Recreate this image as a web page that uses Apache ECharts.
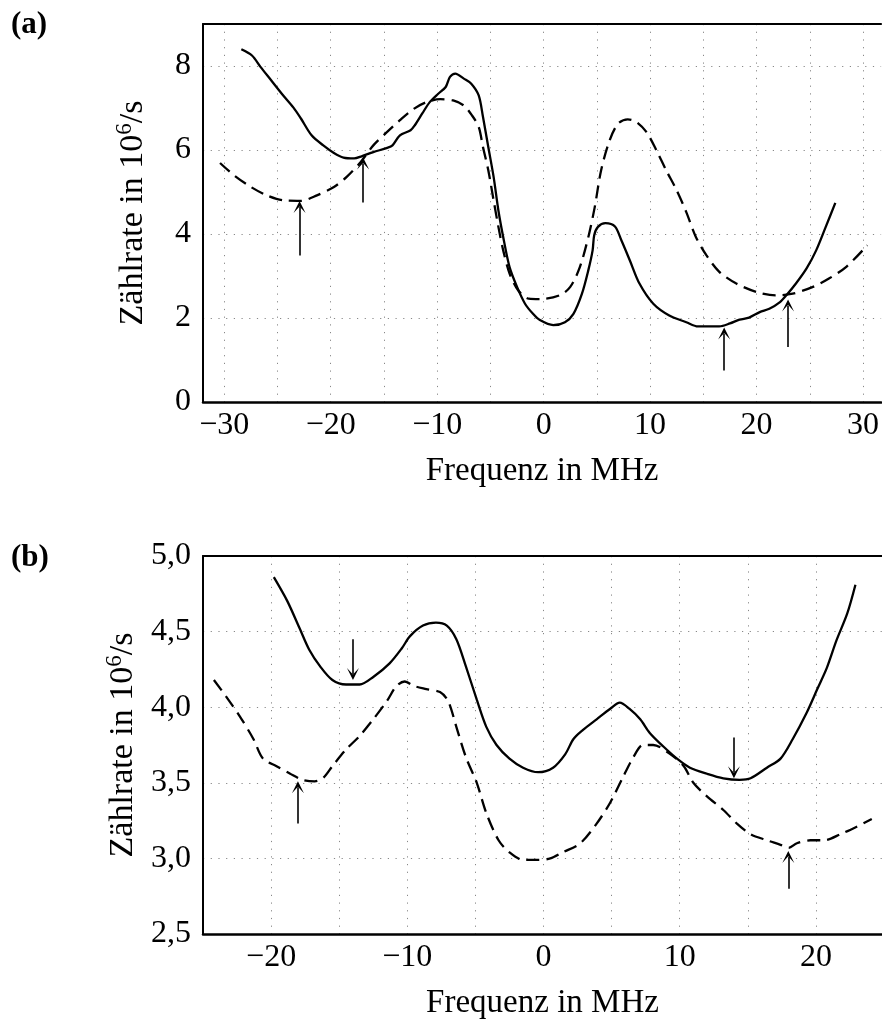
<!DOCTYPE html>
<html>
<head>
<meta charset="utf-8">
<script src="https://cdn.jsdelivr.net/npm/echarts@6/dist/echarts.min.js"></script>
<style>
html,body{margin:0;padding:0;background:#fff;}
#chart{width:882px;height:1021px;}
</style>
</head>
<body>
<div id="chart"></div>
<script>
// ---- data ----
// Panel (a): frequency in MHz, rate in 10^6/s
const aSolid = [[-28.4,8.40],[-27.4,8.25],[-26.6,7.98],[-25.6,7.66],[-24.6,7.34],[-23.5,7.01],[-22.8,6.75],[-21.8,6.35],[-20.7,6.11],[-19.7,5.93],[-18.8,5.82],[-17.8,5.80],[-17.1,5.85],[-16.0,5.95],[-14.7,6.05],[-14.2,6.11],[-13.5,6.35],[-12.5,6.47],[-12.1,6.59],[-11.4,6.87],[-10.7,7.14],[-9.9,7.34],[-9.2,7.50],[-8.8,7.74],[-8.3,7.82],[-7.5,7.70],[-6.8,7.58],[-6.1,7.30],[-5.7,6.79],[-5.2,6.07],[-4.7,5.36],[-4.25,4.56],[-3.8,3.93],[-3.2,3.21],[-2.5,2.74],[-1.75,2.34],[-1.0,2.10],[-0.35,1.95],[0.9,1.83],[2.0,1.90],[2.8,2.10],[3.6,2.58],[4.2,3.14],[4.6,3.61],[4.75,3.97],[5.1,4.17],[5.8,4.26],[6.7,4.18],[7.3,3.85],[8.1,3.37],[9.0,2.82],[10.3,2.34],[11.8,2.06],[13.4,1.90],[14.5,1.80],[16.5,1.80],[17.5,1.87],[18.4,1.96],[19.3,2.01],[20.3,2.14],[21.2,2.22],[22.2,2.38],[22.8,2.54],[23.7,2.82],[24.7,3.18],[25.6,3.61],[26.5,4.17],[27.4,4.74]];
const aDashed = [[-30.4,5.69],[-29.1,5.40],[-27.5,5.12],[-26.0,4.92],[-24.4,4.80],[-22.8,4.79],[-21.3,4.92],[-19.7,5.12],[-18.5,5.36],[-17.2,5.71],[-16.0,6.11],[-14.7,6.43],[-13.5,6.71],[-12.2,6.98],[-11.0,7.14],[-9.7,7.21],[-8.5,7.18],[-7.5,7.06],[-6.75,6.83],[-6.1,6.55],[-5.7,6.07],[-5.2,5.52],[-4.7,4.80],[-4.25,4.17],[-3.8,3.61],[-3.2,3.06],[-2.4,2.66],[-1.4,2.46],[-0.35,2.45],[1.5,2.54],[2.5,2.74],[3.4,3.21],[4.2,3.93],[4.8,4.64],[5.4,5.52],[6.2,6.23],[7.0,6.63],[7.9,6.73],[8.7,6.67],[9.65,6.43],[10.6,5.99],[11.5,5.52],[12.5,5.04],[13.4,4.52],[14.3,3.93],[15.3,3.49],[16.5,3.10],[18.1,2.82],[20.0,2.62],[21.8,2.54],[23.4,2.58],[25.3,2.74],[26.8,2.94],[28.4,3.21],[30.4,3.73]];
// arrows: [frequency, tail value, tip value]
const aArrows = [[-22.93,3.49,4.64],[-16.96,4.75,5.68],[16.96,0.75,1.63],[22.96,1.31,2.30]];

// Panel (b)
const bSolid = [[-19.8,4.86],[-18.8,4.70],[-17.9,4.52],[-17.2,4.38],[-16.4,4.27],[-15.5,4.18],[-14.5,4.15],[-13.5,4.15],[-12.5,4.20],[-11.3,4.29],[-10.4,4.39],[-9.8,4.47],[-8.85,4.54],[-7.9,4.56],[-7.1,4.54],[-6.4,4.45],[-5.7,4.27],[-4.9,4.05],[-4.2,3.87],[-3.45,3.75],[-2.5,3.66],[-1.5,3.60],[-0.4,3.57],[0.7,3.60],[1.6,3.69],[2.2,3.79],[2.9,3.85],[3.9,3.92],[4.9,3.99],[5.6,4.03],[6.3,3.99],[7.1,3.92],[7.8,3.83],[8.8,3.74],[9.8,3.66],[10.75,3.60],[12.0,3.56],[13.2,3.53],[14.4,3.52],[15.2,3.53],[16.4,3.60],[17.4,3.66],[18.3,3.79],[19.3,3.96],[20.1,4.12],[20.8,4.26],[21.5,4.44],[22.3,4.62],[22.9,4.81]];
const bDashed = [[-24.2,4.18],[-23.3,4.07],[-22.3,3.94],[-21.3,3.79],[-20.6,3.66],[-19.6,3.61],[-18.6,3.56],[-17.7,3.52],[-16.8,3.51],[-16.2,3.53],[-15.5,3.61],[-14.5,3.72],[-13.5,3.81],[-12.5,3.92],[-11.5,4.04],[-10.8,4.14],[-10.2,4.17],[-9.5,4.14],[-8.6,4.12],[-7.6,4.10],[-7.0,4.04],[-6.4,3.87],[-5.7,3.67],[-4.9,3.50],[-4.2,3.30],[-3.3,3.12],[-2.5,3.04],[-1.5,2.99],[-0.45,2.99],[0.5,3.00],[1.4,3.04],[2.7,3.10],[3.9,3.23],[4.9,3.37],[5.85,3.54],[6.6,3.67],[7.3,3.75],[8.05,3.75],[9.3,3.69],[10.3,3.61],[11.0,3.50],[12.0,3.41],[13.2,3.32],[14.2,3.23],[15.2,3.16],[16.4,3.12],[17.4,3.09],[18.0,3.07],[18.6,3.10],[19.6,3.12],[20.6,3.12],[21.8,3.16],[23.0,3.21],[24.1,3.26]];
const bArrows = [[-13.99,4.45,4.22],[-18.03,3.23,3.47],[13.98,3.80,3.57],[17.97,2.80,3.01]];

// visible axis ranges (the frame runs off the right edge of the picture)
const aXRange = [-32, 31.7];
const aYRange = [0, 9];
const bXRange = [-25, 24.85];
const bYRange = [2.5, 5.0];

const panelLabels = ['(a)', '(b)'];
const xTitle = 'Frequenz in MHz';
const yTitle = 'Zählrate in 10{sup|6}/s';

// ---- chart ----
const FONT = 'Liberation Serif';
const gridLineX = {show:true, showMinLine:false, showMaxLine:false, lineStyle:{color:'#888', width:1, type:[1.2,6.5]}};
const gridLineY = {show:true, lineStyle:{color:'#888', width:1, type:[1.2,6.5]}};
const arrowHead = 'path://M0,0 L5,11 L0,5 L-5,11 Z';

function fmtX(v){
  if (Math.abs(v % 10) > 1e-9) return '';
  return v < 0 ? '\u2212' + Math.abs(v) : String(v);
}
function arrowsData(arr){
  return arr.map(a => ({coords:[[a[0],a[1]],[a[0],a[2]]]}));
}

const chart = echarts.init(document.getElementById('chart'), null, {renderer:'canvas'});
const yName = {
  name: yTitle, nameLocation:'middle', nameGap:50,
  nameTextStyle:{fontFamily:FONT, fontSize:34, color:'#000',
    rich:{sup:{fontFamily:FONT, fontSize:23, color:'#000', padding:[0,0,17,0]}}}
};
const xName = {
  name: xTitle, nameLocation:'middle', nameGap:53,
  nameTextStyle:{fontFamily:FONT, fontSize:33, color:'#000'}
};
const topAxis = {type:'value', position:'top',
  axisLine:{show:true, onZero:false, lineStyle:{color:'#000', width:2}},
  axisTick:{show:false}, axisLabel:{show:false}, splitLine:{show:false}};

chart.setOption({
  animation:false,
  backgroundColor:'#fff',
  title:[
    {text:panelLabels[0], left:6, top:4, textStyle:{fontFamily:FONT, fontWeight:'bold', fontSize:31, color:'#000'}},
    {text:panelLabels[1], left:6, top:537, textStyle:{fontFamily:FONT, fontWeight:'bold', fontSize:31, color:'#000'}}
  ],
  grid:[
    {left:203, top:24, bottom:619, right:0, show:false, containLabel:false},
    {left:203, top:556, bottom:87, right:0, show:false, containLabel:false}
  ],
  xAxis:[
    Object.assign({gridIndex:0, type:'value', min:aXRange[0], max:aXRange[1], splitNumber:13,
      axisLine:{show:true, onZero:false, lineStyle:{color:'#000', width:2.5}},
      axisTick:{show:false},
      axisLabel:{formatter:fmtX, fontFamily:FONT, fontSize:32, color:'#000', margin:8, showMinLabel:false, showMaxLabel:false},
      splitLine:gridLineX}, xName),
    Object.assign({gridIndex:1, type:'value', min:bXRange[0], max:bXRange[1], interval:5,
      axisLine:{show:true, onZero:false, lineStyle:{color:'#000', width:2.5}},
      axisTick:{show:false},
      axisLabel:{formatter:fmtX, fontFamily:FONT, fontSize:32, color:'#000', margin:8, showMaxLabel:false},
      splitLine:gridLineX}, xName),
    Object.assign({gridIndex:0, min:aXRange[0], max:aXRange[1]}, topAxis),
    Object.assign({gridIndex:1, min:bXRange[0], max:bXRange[1]}, topAxis)
  ],
  yAxis:[
    Object.assign({gridIndex:0, type:'value', min:aYRange[0], max:aYRange[1], interval:2,
      axisLine:{show:true, onZero:false, lineStyle:{color:'#000', width:2}},
      axisTick:{show:false},
      axisLabel:{fontFamily:FONT, fontSize:32, color:'#000', margin:12, showMaxLabel:false,
        formatter:v => (v % 2 === 0 ? String(v) : '')},
      splitLine:gridLineY}, yName),
    Object.assign({gridIndex:1, type:'value', min:bYRange[0], max:bYRange[1], interval:0.5,
      axisLine:{show:true, onZero:false, lineStyle:{color:'#000', width:2}},
      axisTick:{show:false},
      axisLabel:{fontFamily:FONT, fontSize:32, color:'#000', margin:12,
        formatter:v => v.toFixed(1).replace('.', ',')},
      splitLine:gridLineY}, yName)
  ],
  series:[
    {type:'line', xAxisIndex:0, yAxisIndex:0, data:aSolid, showSymbol:false, smooth:0.3,
      lineStyle:{color:'#000', width:2.3}},
    {type:'line', xAxisIndex:0, yAxisIndex:0, data:aDashed, showSymbol:false, smooth:0.3,
      lineStyle:{color:'#000', width:2.3, type:[13,7]}},
    {type:'lines', coordinateSystem:'cartesian2d', xAxisIndex:0, yAxisIndex:0, data:arrowsData(aArrows),
      symbol:['none', arrowHead], symbolSize:[10,12], lineStyle:{color:'#000', width:1.6, opacity:1}},
    {type:'line', xAxisIndex:1, yAxisIndex:1, data:bSolid, showSymbol:false, smooth:0.3,
      lineStyle:{color:'#000', width:2.3}},
    {type:'line', xAxisIndex:1, yAxisIndex:1, data:bDashed, showSymbol:false, smooth:0.3,
      lineStyle:{color:'#000', width:2.3, type:[13,7]}},
    {type:'lines', coordinateSystem:'cartesian2d', xAxisIndex:1, yAxisIndex:1, data:arrowsData(bArrows),
      symbol:['none', arrowHead], symbolSize:[10,12], lineStyle:{color:'#000', width:1.6, opacity:1}}
  ]
});
</script>
</body>
</html>
